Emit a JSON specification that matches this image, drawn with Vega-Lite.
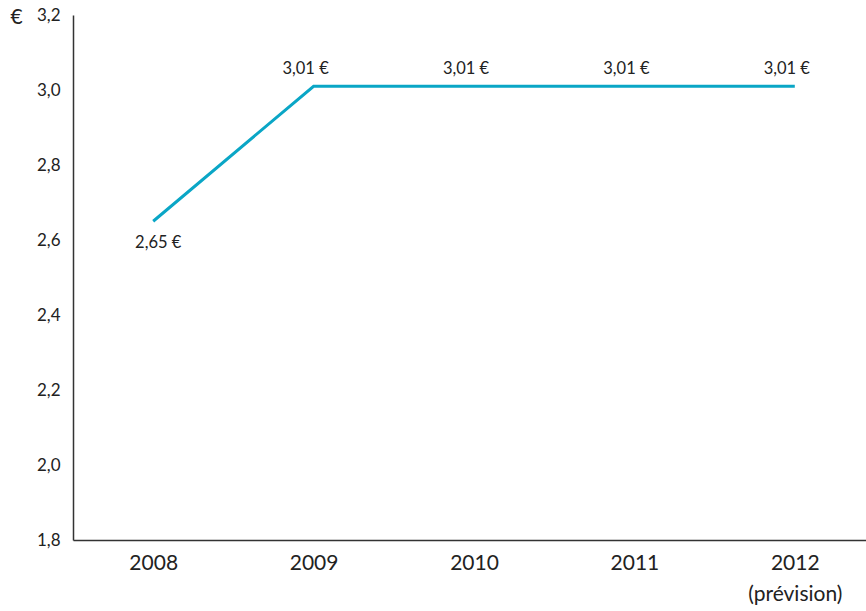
{
  "$schema": "https://vega.github.io/schema/vega-lite/v6.json",
  "autosize": "none",
  "width": 802,
  "height": 525,
  "padding": {"left": 73, "top": 15, "right": -9, "bottom": 71},
  "background": "white",
  "config": {
    "view": {"stroke": null},
    "font": "Lato",
    "locale": {"number": {"decimal": ",", "thousands": " ", "grouping": [3], "currency": ["", " €"]}}
  },
  "data": {"values": [
    {"year": "2008", "price": 2.65},
    {"year": "2009", "price": 3.01},
    {"year": "2010", "price": 3.01},
    {"year": "2011", "price": 3.01},
    {"year": "2012", "price": 3.01}
  ]},
  "encoding": {
    "x": {"field": "year", "type": "ordinal", "scale": {"type": "point", "padding": 0.5},
      "axis": {"title": null, "labelAngle": 0, "ticks": false, "domainColor": "#333", "domainWidth": 1.5,
        "labelFontSize": 21, "labelFontWeight": "normal", "labelColor": "#222", "labelPadding": 12, "labelLineHeight": 31,
        "labelExpr": "datum.value == '2012' ? ['2012', '(prévision)'] : datum.value"}},
    "y": {"field": "price", "type": "quantitative", "scale": {"domain": [1.8, 3.2], "nice": false, "zero": false},
      "axis": {"title": "€", "titleAngle": 0, "titleX": -57, "titleY": 2, "titleAlign": "center", "titleBaseline": "middle",
        "titleFontSize": 21, "titleFontWeight": "normal", "titleColor": "#222",
        "values": [1.8, 2.0, 2.2, 2.4, 2.6, 2.8, 3.0, 3.2], "format": ".1f", "grid": false, "ticks": false,
        "domainColor": "#333", "domainWidth": 1.5, "labelFontSize": 17, "labelFontWeight": "normal", "labelColor": "#222", "labelPadding": 13}}
  },
  "layer": [
    {"mark": {"type": "line", "color": "#0aa6c6", "strokeWidth": 3}},
    {"transform": [{"filter": "datum.year != '2008'"}],
     "mark": {"type": "text", "dy": -17, "dx": -8, "fontSize": 16.5, "color": "#222"},
     "encoding": {"text": {"field": "price", "type": "quantitative", "format": "$.2f"}}},
    {"transform": [{"filter": "datum.year == '2008'"}],
     "mark": {"type": "text", "dy": 22, "dx": 5, "fontSize": 16.5, "color": "#222"},
     "encoding": {"text": {"field": "price", "type": "quantitative", "format": "$.2f"}}}
  ]
}
